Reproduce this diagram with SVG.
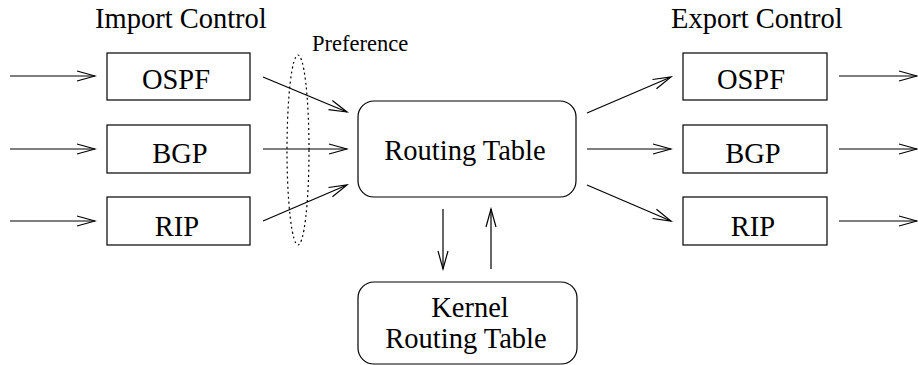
<svg xmlns="http://www.w3.org/2000/svg" width="918" height="365" viewBox="0 0 918 365">
<style>
.box{fill:#fff;stroke:#000;stroke-width:1.2}
.t{font-family:"Liberation Serif","Times New Roman",serif;font-size:28.5px;fill:#000;text-anchor:middle}
.h{font-family:"Liberation Serif","Times New Roman",serif;font-size:28.5px;fill:#000}
.c{stroke:#000;stroke-width:1.2;fill:none;marker-end:url(#ah)}
</style>
<defs>
<marker id="ah" markerUnits="userSpaceOnUse" viewBox="-20 -7 22 14" markerWidth="22" markerHeight="14" refX="0" refY="0" orient="auto">
<path d="M-18,-5 L0,0 L-18,5" fill="none" stroke="#000" stroke-width="1.2"/>
</marker>
</defs>
<text class="h" x="95" y="28">Import Control</text>
<text class="h" x="671" y="28">Export Control</text>
<text class="h" x="312" y="51" style="font-size:22.5px">Preference</text>
<ellipse cx="298" cy="150" rx="11" ry="95" fill="none" stroke="#000" stroke-width="1.2" stroke-dasharray="2,3"/>
<g id="imp-ospf"><rect class="box" x="107" y="53" width="143" height="47"/><text class="t" x="176" y="89">OSPF</text></g>
<g id="imp-bgp"><rect class="box" x="107" y="125" width="143" height="48"/><text class="t" x="180" y="163">BGP</text></g>
<g id="imp-rip"><rect class="box" x="107" y="197" width="143" height="48"/><text class="t" x="177" y="236">RIP</text></g>
<g id="rt"><rect class="box" x="358" y="101" width="218" height="96" rx="16"/><text class="t" x="465" y="160">Routing Table</text></g>
<g id="krt"><rect class="box" x="358" y="282" width="219" height="82" rx="16"/><text class="t" x="470" y="317">Kernel</text><text class="t" x="466" y="348">Routing Table</text></g>
<g id="exp-ospf"><rect class="box" x="683" y="53" width="144" height="47"/><text class="t" x="751" y="89">OSPF</text></g>
<g id="exp-bgp"><rect class="box" x="683" y="125" width="144" height="48"/><text class="t" x="753" y="163">BGP</text></g>
<g id="exp-rip"><rect class="box" x="683" y="197" width="144" height="48"/><text class="t" x="753" y="236">RIP</text></g>
<g id="connectors">
<line class="c" x1="10" y1="76" x2="95" y2="76"/>
<line class="c" x1="10" y1="149" x2="95" y2="149"/>
<line class="c" x1="10" y1="221" x2="95" y2="221"/>
<line class="c" x1="263" y1="77" x2="347" y2="112"/>
<line class="c" x1="263" y1="149" x2="347" y2="149"/>
<line class="c" x1="263" y1="221" x2="347" y2="185"/>
<line class="c" x1="587" y1="113" x2="671" y2="77"/>
<line class="c" x1="587" y1="149" x2="671" y2="149"/>
<line class="c" x1="587" y1="185" x2="671" y2="221"/>
<line class="c" x1="839" y1="76" x2="917" y2="76"/>
<line class="c" x1="839" y1="149" x2="917" y2="149"/>
<line class="c" x1="839" y1="221" x2="917" y2="221"/>
<line class="c" x1="443" y1="209" x2="443" y2="269"/>
<line class="c" x1="491" y1="269" x2="491" y2="209"/>
</g>
</svg>
